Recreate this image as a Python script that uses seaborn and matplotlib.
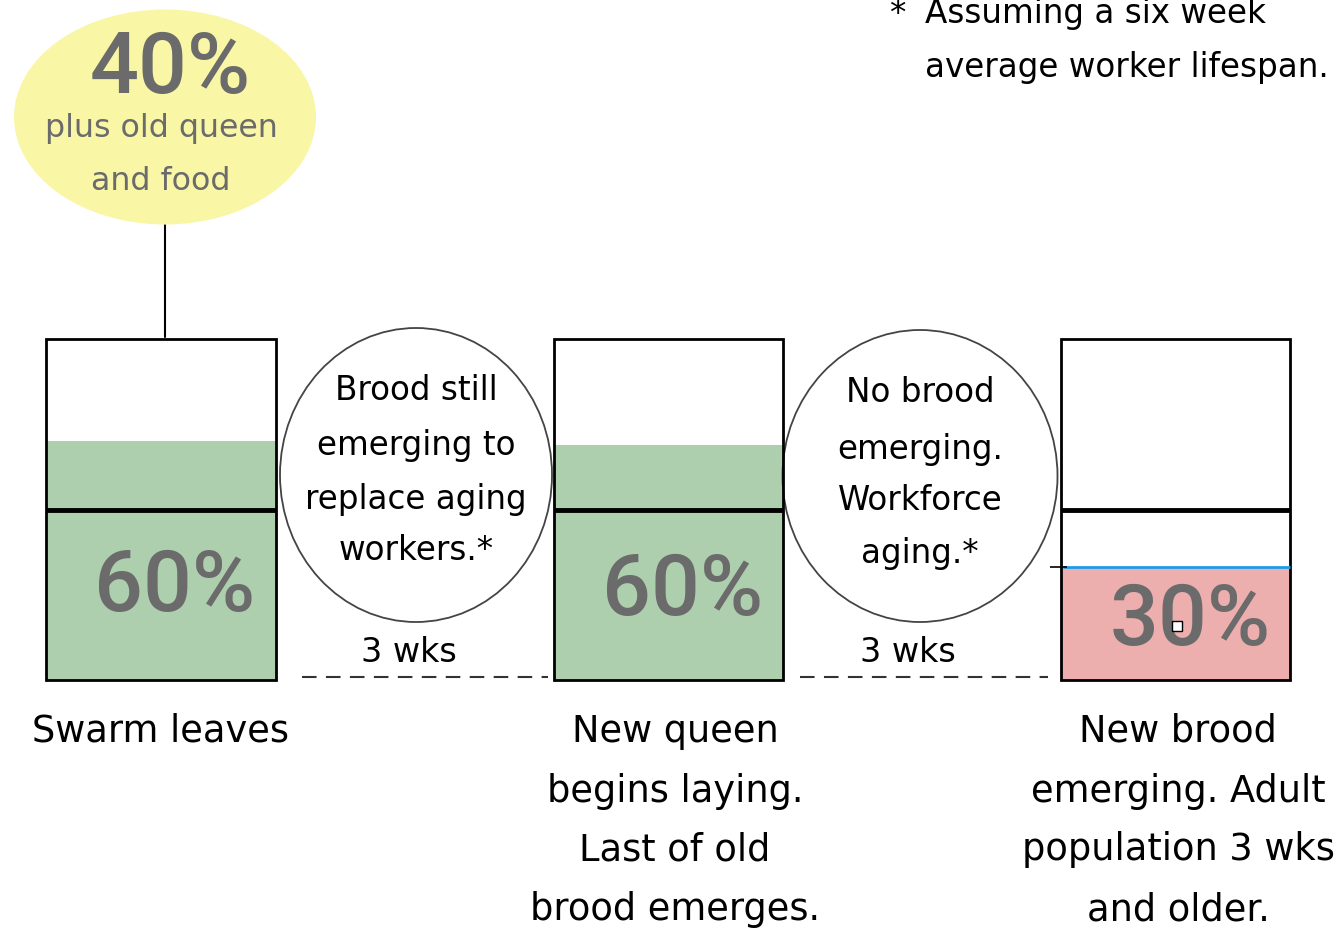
import matplotlib
matplotlib.use("Agg")
import matplotlib.pyplot as plt
import seaborn as sns
import pandas as pd
from matplotlib.patches import Ellipse

# ---------------- data ----------------
stages = ["Swarm leaves", "New queen", "New brood"]
capacity = [100, 100, 100]
fill_level = [70, 69, 33]
marker_level = [50, 50, 50]
pct_labels = ["60%", "60%", "30%"]
fill_colors = ["#AECFAE", "#AECFAE", "#EDAEAE"]
stage_texts = [
    ["Swarm leaves"],
    ["New queen", "begins laying.", "Last of old", "brood emerges."],
    ["New brood", "emerging. Adult", "population 3 wks", "and older."],
]
gap_texts = [
    ["Brood still", "emerging to", "replace aging", "workers.*"],
    ["No brood", "emerging.", "Workforce", "aging.*"],
]
gap_durations = ["3 wks", "3 wks"]
swarm_pct = "40%"
swarm_note = ["plus old queen", "and food"]
footnote = ["Assuming a six week", "average worker lifespan."]

df = pd.DataFrame({"stage": stages, "capacity": capacity,
                   "fill": fill_level, "marker": marker_level})

# ---------------- figure ----------------
sns.set_theme(style="white")
plt.rcParams["font.family"] = ["DejaVu Sans"]
W, H = 1342, 933
fig = plt.figure(figsize=(W / 100, H / 100), dpi=100)
ax = fig.add_axes([0, 0, 1, 1])

BW = 0.452
sns.barplot(data=df, x="stage", y="capacity", color="white", saturation=1,
            width=BW, edgecolor="none", ax=ax, zorder=1)
sns.barplot(data=df, x="stage", y="fill", hue="stage", palette=fill_colors,
            saturation=1, width=BW, edgecolor="none", legend=False, ax=ax, zorder=2)
n_before = len(ax.patches)
sns.barplot(data=df, x="stage", y="capacity", fill=False, edgecolor="black",
            linewidth=2, width=BW, ax=ax, zorder=4)
outline = ax.patches[n_before:]

# layout: pixel -> data helpers
X0, XS = 161, 507.3
Y0, YS = 680, 3.41
ax.set_xlim(-X0 / XS, (W - X0) / XS)
ax.set_ylim(-(H - Y0) / YS, Y0 / YS)
ax.set_axis_off()

def P(x, y):
    return ((x - X0) / XS, (Y0 - y) / YS)

# 50% marker lines
for p, m in zip(outline, marker_level):
    ax.hlines(m, p.get_x(), p.get_x() + p.get_width(), color="black", lw=3.5, zorder=5)
# blue top edge of the last fill
p = outline[2]
ax.hlines(fill_level[2], p.get_x() + 0.005, p.get_x() + p.get_width(),
          color="#1E9BE8", lw=2, zorder=5)
ax.hlines(fill_level[2], p.get_x() - 0.022, p.get_x() + 0.012, color="black", lw=1.2, zorder=6)

GRAY = "#6B6B6B"
pct_pos = [(175, 588), (683, 591), (1190, 621)]
for (x, y), lab in zip(pct_pos, pct_labels):
    ax.text(*P(x, y), lab, ha="center", va="center", fontsize=62,
            fontweight="medium", color=GRAY, family="Roboto", zorder=6)
ax.plot(*P(1177, 626), marker="s", ms=7, mfc="white", mec="black", mew=1, zorder=7)

# stage descriptions
stage_x = [161, 675, 1178]
line_y = [731, 791, 850, 910]
for x, lines in zip(stage_x, stage_texts):
    for ly, t in zip(line_y, lines):
        ax.text(*P(x, ly), t, ha="center", va="center", fontsize=26.5,
                color="black", zorder=6)

# gap circles
circ = [((416, 475), 272, 294), ((920, 476), 275, 292)]
circ_line_y = [[390, 446, 499, 551], [393, 449, 501, 553]]
for ((cx, cy), w, h), lines, lys in zip(circ, gap_texts, circ_line_y):
    ax.add_patch(Ellipse(P(cx, cy), w / XS, h / YS, facecolor="white",
                         edgecolor="#444444", lw=1.3, zorder=3))
    for ly, t in zip(lys, lines):
        ax.text(*P(cx, ly), t, ha="center", va="center", fontsize=23.5,
                color="black", zorder=6)

# durations and dashed lines
dur_x = [409, 908]
dash_span = [(302, 548), (800, 1048)]
for x, t, (a, b) in zip(dur_x, gap_durations, dash_span):
    ax.text(*P(x, 652), t, ha="center", va="center", fontsize=24, color="black")
    xa, ya = P(a, 677)
    xb, _ = P(b, 677)
    ln, = ax.plot([xa, xb], [ya, ya], color="#333333", lw=1.5)
    ln.set_dashes((7, 4.5))

# swarm bubble
ax.add_patch(Ellipse(P(165, 117), 302 / XS, 215 / YS, facecolor="#F9F6A6",
                     edgecolor="none", zorder=3))
xa, ya = P(165, 225)
_, yb = P(165, 337)
ax.plot([xa, xa], [ya, yb], color="black", lw=1.5, zorder=2)
ax.text(*P(170, 70), swarm_pct, ha="center", va="center", fontsize=62,
        fontweight="medium", color=GRAY, family="Roboto", zorder=6)
for ly, t in zip([129, 182], swarm_note):
    ax.text(*P(161, ly), t, ha="center", va="center", fontsize=22.8,
            color=GRAY, zorder=6)

# footnote
ax.text(*P(897, 14), "*", ha="center", va="center", fontsize=23.5, color="black")
for ly, t in zip([14, 67], footnote):
    ax.text(*P(925, ly), t, ha="left", va="center", fontsize=23.5, color="black")

fig.savefig("out.png", dpi=100, facecolor="white")
